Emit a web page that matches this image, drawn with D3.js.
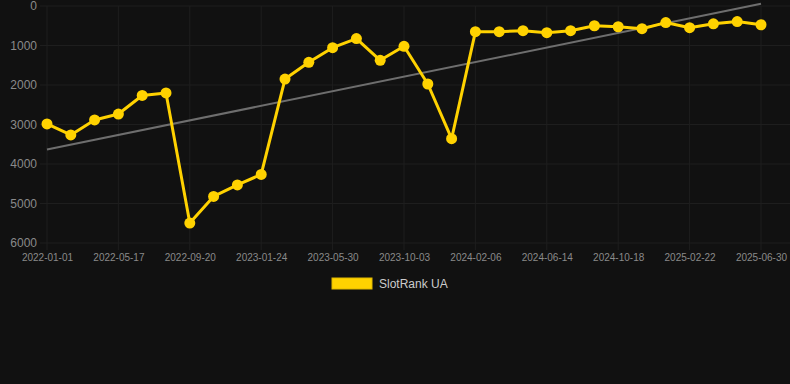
<!DOCTYPE html>
<html lang="en">
<head>
<meta charset="UTF-8">
<title>SlotRank UA</title>
<style>
    body {
        margin: 0;
        background: #111111;
        font-family: 'Liberation Sans', Arial, Helvetica, sans-serif;
    }
    #chart { width: 790px; height: 384px; }
</style>
</head>
<body>
<div id="chart"></div>
<script src="https://cdn.jsdelivr.net/npm/d3@7"></script>
<script>
    // dates for every point (labels shown on every 3rd one)
    const dates = [
        "2022-01-01", "2022-02-15", "2022-04-01", "2022-05-17", "2022-06-28", "2022-08-09",
        "2022-09-20", "2022-11-01", "2022-12-13", "2023-01-24", "2023-03-07", "2023-04-18",
        "2023-05-30", "2023-07-11", "2023-08-22", "2023-10-03", "2023-11-14", "2023-12-26",
        "2024-02-06", "2024-03-19", "2024-05-01", "2024-06-14", "2024-07-26", "2024-09-06",
        "2024-10-18", "2024-11-29", "2025-01-10", "2025-02-22", "2025-04-06", "2025-05-18",
        "2025-06-30"
    ];
    const rankUA = [
        2985, 3265, 2885, 2735, 2265, 2200, 5495, 4820, 4530, 4265,
        1850, 1425, 1055, 825, 1375, 1020, 1975, 3360, 650, 650,
        625, 675, 625, 500, 525, 575, 420, 550, 450, 395, 475
    ];
    const xTickLabels = dates.filter((d, i) => i % 3 === 0);
    const yTicks = [0, 1000, 2000, 3000, 4000, 5000, 6000];
    const seriesName = "SlotRank UA";

    const width = 790, height = 384;
    const svg = d3.select("#chart").append("svg")
        .attr("width", width)
        .attr("height", height);

    const x = d3.scalePoint().domain(dates).range([47, 761]);
    const y = d3.scaleLinear().domain([0, 6000]).range([6, 243]);

    // grid
    svg.append("g").selectAll("line")
        .data(yTicks)
        .enter().append("line")
        .attr("x1", 40).attr("x2", width)
        .attr("y1", d => y(d)).attr("y2", d => y(d))
        .attr("stroke", "#1e1e1e").attr("stroke-width", 1);

    svg.append("g").selectAll("line")
        .data(xTickLabels)
        .enter().append("line")
        .attr("x1", d => x(d)).attr("x2", d => x(d))
        .attr("y1", y(0)).attr("y2", y(6000) + 7)
        .attr("stroke", "#1e1e1e").attr("stroke-width", 1);

    // y axis labels
    const yAxis = d3.axisLeft(y).tickValues(yTicks).tickSize(0).tickPadding(0).tickFormat(d3.format("d"));
    svg.append("g")
        .attr("transform", "translate(37,0)")
        .call(yAxis)
        .call(g => g.select(".domain").remove())
        .selectAll("text")
        .attr("fill", "#8a8a8a")
        .style("font-size", "12px")
        .style("font-family", "'Liberation Sans', Arial, sans-serif");

    // x axis labels
    const xAxis = d3.axisBottom(x).tickValues(xTickLabels).tickSize(0).tickPadding(0);
    svg.append("g")
        .attr("transform", `translate(0,${y(6000) + 11})`)
        .call(xAxis)
        .call(g => g.select(".domain").remove())
        .selectAll("text")
        .attr("fill", "#8a8a8a")
        .style("font-size", "10px")
        .style("font-family", "'Liberation Sans', Arial, sans-serif");

    // linear trend over point index
    const n = rankUA.length;
    const meanI = d3.mean(rankUA, (d, i) => i);
    const meanV = d3.mean(rankUA);
    const slope = d3.sum(rankUA, (d, i) => (i - meanI) * (d - meanV)) /
        d3.sum(rankUA, (d, i) => (i - meanI) * (i - meanI));
    const intercept = meanV - slope * meanI;
    const trend = [0, n - 1].map(i => ({ date: dates[i], v: intercept + slope * i }));

    svg.append("path")
        .datum(trend)
        .attr("fill", "none")
        .attr("stroke", "#6e6e6e")
        .attr("stroke-width", 2)
        .attr("d", d3.line().x(d => x(d.date)).y(d => y(d.v)));

    // series
    const pts = dates.map((d, i) => ({ date: d, v: rankUA[i] }));
    svg.append("path")
        .datum(pts)
        .attr("fill", "none")
        .attr("stroke", "#ffd200")
        .attr("stroke-width", 3)
        .attr("stroke-linejoin", "round")
        .attr("d", d3.line().x(d => x(d.date)).y(d => y(d.v)));

    svg.append("g").selectAll("circle")
        .data(pts)
        .enter().append("circle")
        .attr("cx", d => x(d.date))
        .attr("cy", d => y(d.v))
        .attr("r", 5.5)
        .attr("fill", "#ffd200");

    // legend
    const legend = svg.append("g").attr("transform", "translate(332,278)");
    legend.append("rect")
        .attr("width", 40).attr("height", 11)
        .attr("fill", "#ffd200")
        .attr("stroke", "#e0b800").attr("stroke-width", 1);
    legend.append("text")
        .attr("x", 47).attr("y", 6)
        .attr("dy", "0.35em")
        .attr("fill", "#cccccc")
        .style("font-size", "12px")
        .text(seriesName);
</script>
</body>
</html>
